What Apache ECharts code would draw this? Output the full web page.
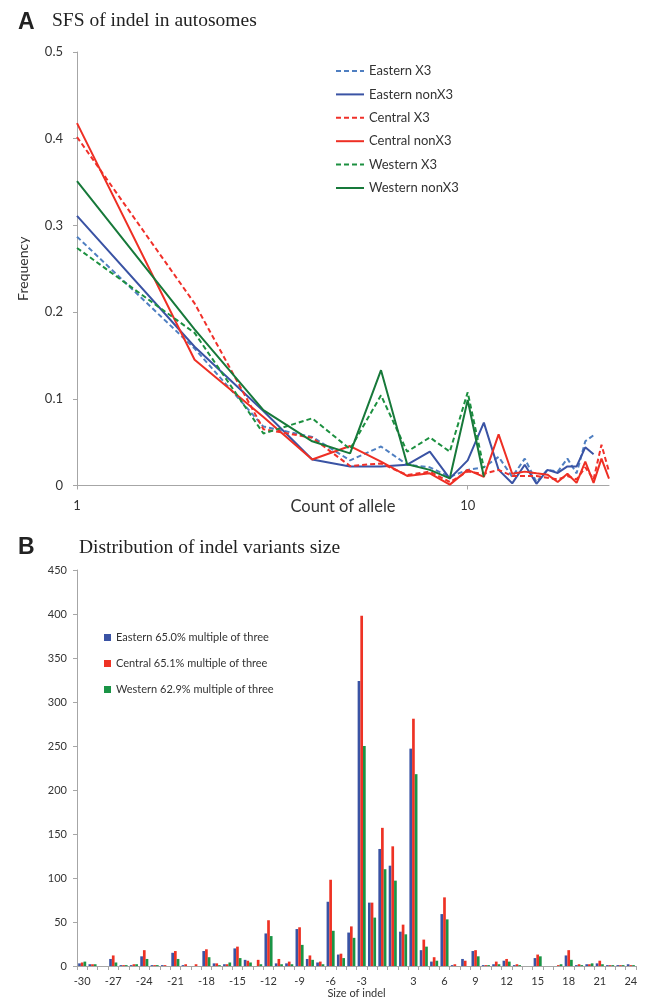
<!DOCTYPE html>
<html>
<head>
<meta charset="utf-8">
<script src="https://cdn.jsdelivr.net/npm/echarts@6/dist/echarts.min.js"></script>
<style>
html,body{margin:0;padding:0;background:#fff;}
#chart{width:645px;height:1001px;}
</style>
</head>
<body>
<div id="chart"></div>
<script>
// ---------- Panel A data: SFS of indel in autosomes ----------
const alleleCounts = [1,2,3,4,5,6,7,8,9,10,11,12,13,14,15,16,17,18,19,20,21,22,23];
const easternX3    = [0.287,0.158,0.068,0.056,0.029,0.045,0.024,0.021,0.010,0.018,0.021,0.033,0.010,0.031,0.004,0.018,0.016,0.031,0.014,0.051,0.058];
const easternNonX3 = [0.311,0.160,0.086,0.030,0.022,0.022,0.024,0.039,0.008,0.029,0.0725,0.018,0.0025,0.024,0.002,0.018,0.0145,0.022,0.022,0.044,0.036];
const centralX3    = [0.402,0.210,0.065,0.055,0.0225,0.0255,0.012,0.016,0.004,0.016,0.0135,0.018,0.011,0.011,0.011,0.009,0.007,0.011,0.007,0.021,0.007,0.047,0.016];
const centralNonX3 = [0.418,0.145,0.079,0.030,0.0455,0.0275,0.011,0.014,0.001,0.018,0.010,0.059,0.0135,0.016,0.014,0.0125,0.004,0.0135,0.003,0.0275,0.003,0.031,0.008];
const westernX3    = [0.274,0.176,0.060,0.0775,0.042,0.104,0.039,0.0555,0.039,0.1075,0.020];
const westernNonX3 = [0.351,0.180,0.087,0.051,0.037,0.133,0.0244,0.018,0.0083,0.0986,0.010];
const lineNames = ['Eastern X3','Eastern nonX3','Central X3','Central nonX3','Western X3','Western nonX3'];
const countTickLabels = [1, 10];

// ---------- Panel B data: Distribution of indel variants size ----------
const indelSizes = ['-30','-29','-28','-27','-26','-25','-24','-23','-22','-21','-20','-19','-18','-17','-16','-15','-14','-13','-12','-11','-10','-9','-8','-7','-6','-5','-4','-3','-2','-1',
  '1','2','3','4','5','6','7','8','9','10','11','12','13','14','15','16','17','18','19','20','21','22','23','24'];
const easternBars = [3,2,0,8,1,1,11,1,1,15,1,0,17,3,2,20,7,0,37,3,3,42,8,4,73,13,38,324,72,133,
  114,39,247,18,5,59,1,8,17,1,2,6,1,0,9,0,0,12,1,2,3,1,1,2];
const centralBars = [4,2,0,12,1,2,18,1,1,17,2,2,19,3,2,22,6,7,52,8,5,44,12,5,98,14,45,398,72,157,
  136,47,281,30,10,78,2,6,18,1,5,8,2,0,13,0,1,18,2,2,6,1,1,1];
const westernBars = [5,2,0,4,1,2,8,1,0,8,0,0,10,1,4,9,4,2,34,2,2,24,7,2,40,9,32,250,55,110,
  97,36,218,22,6,53,0,0,11,1,2,5,1,0,11,0,2,7,1,3,2,1,1,1];
const barNames = ['Eastern 65.0% multiple of three','Central 65.1% multiple of three','Western 62.9% multiple of three'];

const pairs = (vals) => vals.map((v,i) => [alleleCounts[i], v]);
const txt = '#333';
const axisGray = '#a6a6a6';
const sans = 'Lato';
const serif = 'Liberation Serif';

const lineDefs = [
  {name: lineNames[0], data: easternX3,    color: '#4f7fc1', type: [5,3]},
  {name: lineNames[1], data: easternNonX3, color: '#3a53a4', type: 'solid'},
  {name: lineNames[2], data: centralX3,    color: '#f0302a', type: [5,3]},
  {name: lineNames[3], data: centralNonX3, color: '#ee2f24', type: 'solid'},
  {name: lineNames[4], data: westernX3,    color: '#1c9040', type: [5,3]},
  {name: lineNames[5], data: westernNonX3, color: '#17793a', type: 'solid'}
];
const barDefs = [
  {name: barNames[0], data: easternBars, color: '#3a53a4'},
  {name: barNames[1], data: centralBars, color: '#ee3224'},
  {name: barNames[2], data: westernBars, color: '#1a9446'}
];

const chart = echarts.init(document.getElementById('chart'), null, {renderer: 'canvas'});
const option = {
  backgroundColor: '#fff',
  animation: false,
  title: [
    {text: 'A', left: 13, top: 6, textStyle: {fontFamily: 'Liberation Sans', fontWeight: 'bold', fontSize: 23, color: '#222'}},
    {text: 'SFS of indel in autosomes', left: 47, top: 6, textStyle: {fontFamily: serif, fontWeight: 'normal', fontSize: 19.5, color: '#222'}},
    {text: 'B', left: 13, top: 531, textStyle: {fontFamily: 'Liberation Sans', fontWeight: 'bold', fontSize: 23, color: '#222'}},
    {text: 'Distribution of indel variants size', left: 74, top: 533, textStyle: {fontFamily: serif, fontWeight: 'normal', fontSize: 19.5, color: '#222'}}
  ],
  legend: [
    {
      data: lineNames, orient: 'vertical', left: 330, top: 59,
      itemWidth: 28, itemHeight: 14, itemGap: 9.4, itemTextGap: 4,
      itemStyle: {opacity: 0},
      textStyle: {fontFamily: sans, fontSize: 13, lineHeight: 14, color: txt},
      selectedMode: false
    },
    {
      data: barNames, orient: 'vertical', left: 99, top: 627,
      itemWidth: 7, itemHeight: 7, itemGap: 15, itemTextGap: 4,
      icon: 'rect',
      textStyle: {fontFamily: sans, fontSize: 11, lineHeight: 11, color: txt},
      selectedMode: false
    }
  ],
  grid: [
    {left: 77, right: 36, top: 52, height: 433.5, containLabel: false},
    {left: 77, right: 9, top: 570, bottom: 35, containLabel: false}
  ],
  xAxis: [
    {
      gridIndex: 0, type: 'log', logBase: 10, min: 1, max: 23,
      name: 'Count of allele', nameLocation: 'middle', nameGap: 13, nameMoveOverlap: false,
      nameTextStyle: {fontFamily: sans, fontSize: 16.5, color: txt},
      axisLine: {lineStyle: {color: axisGray, width: 1}},
      axisTick: {show: true, length: 4, customValues: countTickLabels, lineStyle: {color: axisGray}},
      minorTick: {show: false},
      splitLine: {show: false},
      axisLabel: {fontFamily: sans, fontSize: 13, color: txt, margin: 14, customValues: countTickLabels}
    },
    {
      gridIndex: 1, type: 'category', data: indelSizes, boundaryGap: true,
      name: 'Size of indel', nameLocation: 'middle', nameGap: 22, nameMoveOverlap: false,
      nameTextStyle: {fontFamily: sans, fontSize: 11, color: txt},
      axisLine: {lineStyle: {color: axisGray, width: 1}},
      axisTick: {show: true, interval: 0, length: 4, lineStyle: {color: axisGray}},
      splitLine: {show: false},
      axisLabel: {
        fontFamily: sans, fontSize: 11, color: txt, margin: 10,
        interval: (idx, val) => Number(val) % 3 === 0
      }
    }
  ],
  yAxis: [
    {
      gridIndex: 0, type: 'value', min: 0, max: 0.5, interval: 0.1,
      name: 'Frequency', nameLocation: 'middle', nameGap: 47, nameMoveOverlap: false,
      nameTextStyle: {fontFamily: sans, fontSize: 14, color: txt},
      axisLine: {show: true, lineStyle: {color: axisGray, width: 1}},
      axisTick: {show: true, length: 4, lineStyle: {color: axisGray}},
      splitLine: {show: false},
      axisLabel: {fontFamily: sans, fontSize: 13, color: txt, margin: 14}
    },
    {
      gridIndex: 1, type: 'value', min: 0, max: 450, interval: 50,
      axisLine: {show: true, lineStyle: {color: axisGray, width: 1}},
      axisTick: {show: true, length: 4, lineStyle: {color: axisGray}},
      splitLine: {show: false},
      axisLabel: {fontFamily: sans, fontSize: 11, color: txt, margin: 10}
    }
  ],
  series: [
    ...lineDefs.map(d => ({
      name: d.name, type: 'line', xAxisIndex: 0, yAxisIndex: 0,
      data: pairs(d.data), showSymbol: false, symbol: 'none',
      color: d.color,
      lineStyle: {color: d.color, width: 2, type: d.type},
      z: 3
    })),
    ...barDefs.map(d => ({
      name: d.name, type: 'bar', xAxisIndex: 1, yAxisIndex: 1,
      data: d.data, color: d.color,
      itemStyle: {color: d.color},
      barGap: '0%', barCategoryGap: '22%'
    }))
  ]
};
chart.setOption(option);
</script>
</body>
</html>
